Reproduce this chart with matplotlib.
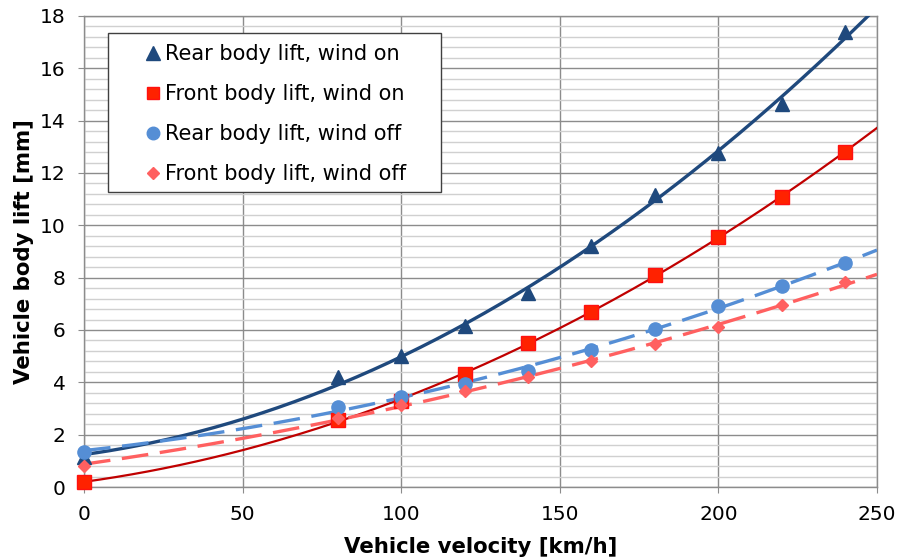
import numpy as np
import matplotlib
matplotlib.use("Agg")
import matplotlib.pyplot as plt
from matplotlib.ticker import MultipleLocator
from matplotlib.patches import Rectangle

plt.rcParams['font.family'] = ['DejaVu Sans']

# Data
velocity = [0, 80, 100, 120, 140, 160, 180, 200, 220, 240]
rear_on = [1.15, 4.2, 5.0, 6.15, 7.4, 9.2, 11.15, 12.75, 14.65, 17.4]
front_on = [0.2, 2.55, 3.3, 4.3, 5.5, 6.7, 8.1, 9.55, 11.1, 12.8]
rear_off = [1.35, 3.05, 3.45, 3.95, 4.45, 5.25, 6.05, 6.9, 7.7, 8.56]
front_off = [0.82, 2.65, 3.15, 3.65, 4.2, 4.8, 5.45, 6.12, 6.95, 7.83]
labels = ["Rear body lift, wind on", "Front body lift, wind on",
          "Rear body lift, wind off", "Front body lift, wind off"]

fig = plt.figure(figsize=(8.99, 5.59), dpi=100)
ax = fig.add_axes([0.0934, 0.1288, 0.8821, 0.8426])

x = np.array(velocity, dtype=float)
xf = np.linspace(0, 250, 300)

series = [
    (rear_on, '^', 10, '#1F497D', '#1F497D', '#1F497D', 2.4, '-', None),
    (front_on, 's', 9.5, '#FF2200', '#FF1010', '#C00000', 1.6, '-', None),
    (rear_off, 'o', 9.5, '#558ED5', '#558ED5', '#558ED5', 2.4, '--', (8, 3.5)),
    (front_off, 'D', 6.3, '#FF6060', '#FF6060', '#FF6060', 2.4, '--', (8, 3.5)),
]

handles = []
for (vals, mk, ms, fc, ec, lc, lw, ls, dashes), lab in zip(series, labels):
    coef = np.polyfit(x, np.array(vals), 2)
    yf = np.polyval(coef, xf)
    ln, = ax.plot(xf, yf, color=lc, lw=lw, ls=ls, zorder=3)
    if dashes:
        ln.set_dashes(dashes)
    h, = ax.plot(x, vals, ls='none', marker=mk, ms=ms, mfc=fc, mec=ec,
                 mew=1, zorder=4, label=lab, clip_on=False)
    handles.append(h)

ax.set_xlim(0, 250)
ax.set_ylim(0, 18)
ax.xaxis.set_major_locator(MultipleLocator(50))
ax.yaxis.set_major_locator(MultipleLocator(2))
ax.yaxis.set_minor_locator(MultipleLocator(0.4))
ax.grid(which='major', color='#8C8C8C', lw=1.0, zorder=0)
ax.grid(which='minor', axis='y', color='#D0D0D0', lw=1.0, zorder=0)
ax.set_axisbelow(True)
for s in ax.spines.values():
    s.set_color('#8C8C8C')
    s.set_linewidth(1.0)
ax.tick_params(which='major', direction='out', length=4.3, color='#8C8C8C',
               labelsize=14.5)
ax.tick_params(which='minor', length=0)
ax.tick_params(axis='y', pad=9)
ax.tick_params(axis='x', pad=9)

ax.set_xlabel("Vehicle velocity [km/h]", fontsize=15.3, fontweight='bold', labelpad=9)
ax.set_ylabel("Vehicle body lift [mm]", fontsize=15.3, fontweight='bold', labelpad=4)

# legend frame (fixed-size box like the original)
ax.add_patch(Rectangle((0.0303, 0.626), 0.42, 0.338, transform=ax.transAxes,
                       facecolor='white', edgecolor='#404040', lw=1.0,
                       zorder=9, clip_on=False))

# anchor in axes coords: handle start at pixel x ~146, top of first row ~ y 44
ax_w, ax_h = 793.0, 471.0
ax_x0, ax_ytop = 84.0, 16.0
anchor_x = (146 - ax_x0) / ax_w
anchor_y = 1 - (44 - ax_ytop) / ax_h
leg = ax.legend(handles=handles, loc='upper left',
                bbox_to_anchor=(anchor_x, anchor_y),
                fontsize=15, frameon=False, labelspacing=0.96,
                handlelength=0.7, handletextpad=0.2, borderpad=0,
                borderaxespad=0, markerscale=0.95)
leg.set_zorder(10)

fig.savefig("out.png", dpi=100)
